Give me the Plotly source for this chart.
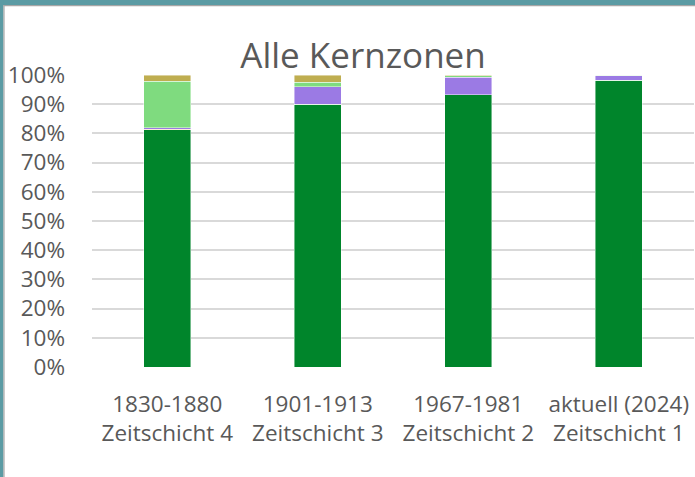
import plotly.graph_objects as go

categories = ["1830-1880<br>Zeitschicht 4", "1901-1913<br>Zeitschicht 3",
              "1967-1981<br>Zeitschicht 2", "aktuell (2024)<br>Zeitschicht 1"]
series_names = ["Grün", "Orange", "Violett", "Hellgrün", "Oliv"]
green = [81.2, 90.0, 93.2, 98.2]
orange = [0.3, 0.0, 0.0, 0.0]
purple = [0.4, 5.9, 6.1, 1.5]
lightgreen = [15.9, 1.6, 0.5, 0.2]
olive = [2.2, 2.5, 0.2, 0.1]
y_ticks = [0, 10, 20, 30, 40, 50, 60, 70, 80, 90, 100]
y_tick_labels = [f"{v}%" for v in y_ticks]

series = [green, orange, purple, lightgreen, olive]
colors = ["#00852B", "#E89B3C", "#9B7AE4", "#7FDB7F", "#BFAE50"]

FONT = "Open Sans"
fig = go.Figure()
for name, vals, col in zip(series_names, series, colors):
    fig.add_trace(go.Bar(
        x=categories, y=vals, name=name, width=0.312,
        marker=dict(color=col, line=dict(color="rgba(255,255,255,0.55)", width=0.8)),
        hoverinfo="x+y+name",
    ))

W, H = 695, 477
L, R, T, B = 92, 1, 75, 110
pw, ph = W - L - R, H - T - B

def px(x):
    return (x - L) / pw

def py(y):
    return (H - B - y) / ph

shapes = [
    dict(type="rect", xref="paper", yref="paper", x0=px(0), x1=px(W + 2), y0=py(0), y1=py(5),
         fillcolor="#5B9BA4", line=dict(width=0), layer="above"),
    dict(type="rect", xref="paper", yref="paper", x0=px(3.5), x1=px(W + 2), y0=py(5), y1=py(6.3),
         fillcolor="#A6A6A6", line=dict(width=0), layer="above"),
    dict(type="rect", xref="paper", yref="paper", x0=px(0), x1=px(3.4), y0=py(H + 2), y1=py(0),
         fillcolor="#5B9BA4", line=dict(width=0), layer="above"),
    dict(type="rect", xref="paper", yref="paper", x0=px(3.4), x1=px(4.6), y0=py(H + 2), y1=py(5),
         fillcolor="#A6A6A6", line=dict(width=0), layer="above"),
]

fig.update_layout(
    width=W, height=H,
    margin=dict(l=L, r=R, t=T, b=B, pad=0),
    barmode="stack",
    showlegend=False,
    paper_bgcolor="white", plot_bgcolor="white",
    font=dict(family=FONT, color="#595959", size=22),
    title=dict(text="Alle Kernzonen", xref="container", yref="container",
               x=363 / W, y=1 - 56 / H, xanchor="center", yanchor="middle",
               font=dict(family=FONT, size=35, color="#595959")),
    shapes=shapes,
    xaxis=dict(range=[-0.5, 3.5], showgrid=False, showline=False, zeroline=False,
               ticks="", tickfont=dict(size=22.5, color="#595959"), ticklabelstandoff=21),
    yaxis=dict(range=[0, 100], tickvals=y_ticks, ticktext=y_tick_labels, showgrid=True,
               gridcolor="#D9D9D9", gridwidth=1.5, zeroline=False, showline=False,
               ticks="", tickfont=dict(size=22.5, color="#595959"), ticklabelstandoff=26),
)

fig.write_html("out.html", config={"displayModeBar": False},
               post_script="document.body.style.margin='0';document.body.style.overflow='hidden';")
